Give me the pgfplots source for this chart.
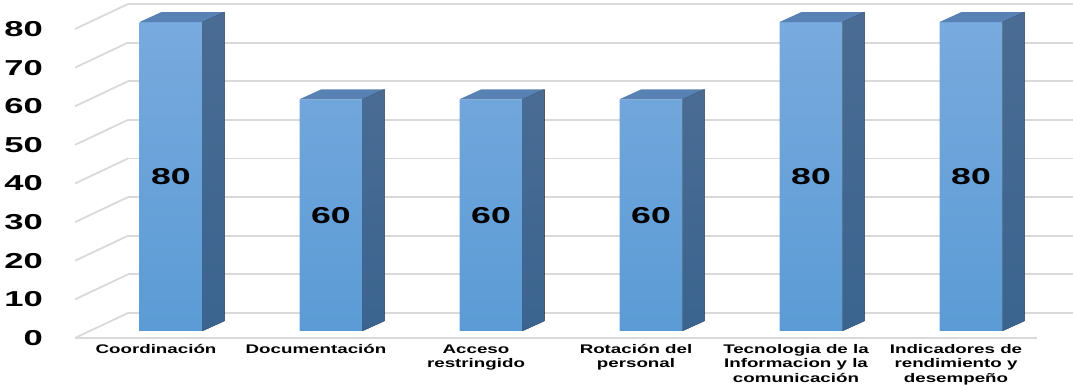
\documentclass[border=0pt]{standalone}
\usepackage{fontspec}
\setmainfont{Liberation Sans}
\usepackage{graphicx}
\usepackage{pgfplots}
\pgfplotsset{compat=1.18}
\definecolor{gridc}{HTML}{D9D9D9}
\definecolor{fronttop}{HTML}{78AADE}
\definecolor{frontbot}{HTML}{5B9BD5}
\definecolor{sidetop}{HTML}{4A6C94}
\definecolor{sidebot}{HTML}{3A648E}
\definecolor{topc}{HTML}{5882B4}
\newcommand\ylab[1]{\scalebox{1.6}[1]{#1}}
\newcommand\clab[1]{\scalebox{1.5}[1]{\begin{tabular}{@{}c@{}}#1\end{tabular}}}
\begin{document}
\begin{tikzpicture}
\useasboundingbox (0,0) rectangle (536.5pt,192.5pt);
% back wall with grid
\begin{axis}[at={(64pt,36pt)}, anchor=south west, scale only axis,
  width=481pt, height=154.5pt,
  xmin=-0.50625, xmax=5.50625, ymin=0, ymax=80,
  axis line style={draw=none}, xtick=\empty,
  ytick={0,10,20,30,40,50,60,70,80},
  yticklabels={\ylab{0},\ylab{10},\ylab{20},\ylab{30},\ylab{40},\ylab{50},\ylab{60},\ylab{70},\ylab{80}},
  major tick length=0pt, ymajorgrids,
  grid style={gridc, line width=0.9pt},
  yticklabel style={font=\fontsize{10.8}{12}\selectfont\bfseries, anchor=east, xshift=-39pt, yshift=-12.5pt},
  clip=false]
\pgfplotsinvokeforeach{0,10,20,30,40,50,60,70,80}{
  \draw[gridc, line width=0.9pt] (axis cs:-0.50625,#1) -- ++(-26.5pt,-12.5pt);
}
\draw[gridc, line width=0.9pt] (axis cs:-0.50625,0) ++(-26.5pt,-12.5pt) -- ++(481pt,0pt);
\end{axis}
% front plane of the bars
\begin{axis}[at={(45pt,27pt)}, anchor=south west, scale only axis,
  width=481pt, height=154.5pt,
  xmin=-0.50625, xmax=5.50625, ymin=0, ymax=80,
  axis line style={draw=none}, ytick=\empty,
  xtick={0,1,2,3,4,5},
  xticklabels={{\clab{Coordinación}},{\clab{Documentación}},{\clab{Acceso\\restringido}},{\clab{Rotación del\\personal}},{\clab{Tecnologia de la\\Informacion y la\\comunicación}},{\clab{Indicadores de\\rendimiento y\\desempeño}}},
  major tick length=0pt,
  xticklabel style={font=\fontsize{6.25}{7.3}\selectfont\bfseries, anchor=north, xshift=-7.5pt, yshift=-2.5pt},
  clip=false]
\addplot[ybar, bar width=31.5pt, draw=none, top color=fronttop, bottom color=frontbot]
  coordinates {(0,80) (1,60) (2,60) (3,60) (4,80) (5,80)};
\addplot[scatter, only marks, mark=*, mark size=0pt, mark options={draw=none, fill=none},
  visualization depends on={rawy \as \val},
  scatter/@pre marker code/.code={%
    \pgfmathsetmacro\h{\val*1.93125}%
    \fill[topc, draw=none] (-15.75pt,0pt) -- (15.75pt,0pt) -- (26.75pt,5pt) -- (-4.75pt,5pt) -- cycle;
    \fill[top color=sidetop, bottom color=sidebot, draw=none] (15.75pt,0pt) -- (26.75pt,5pt) -- (26.75pt,{5pt-\h pt}) -- (15.75pt,{-\h pt}) -- cycle;
    \node[font=\fontsize{11.5}{13}\selectfont\bfseries, text=black, draw=none] at (0pt,{-\h pt/2}) {\scalebox{1.55}[1]{\pgfmathprintnumber[assume math mode=true, fixed, precision=0]{\val}}};
  },
  scatter/@post marker code/.code={}]
  coordinates {(0,80) (1,60) (2,60) (3,60) (4,80) (5,80)};
\end{axis}
\end{tikzpicture}
\end{document}
